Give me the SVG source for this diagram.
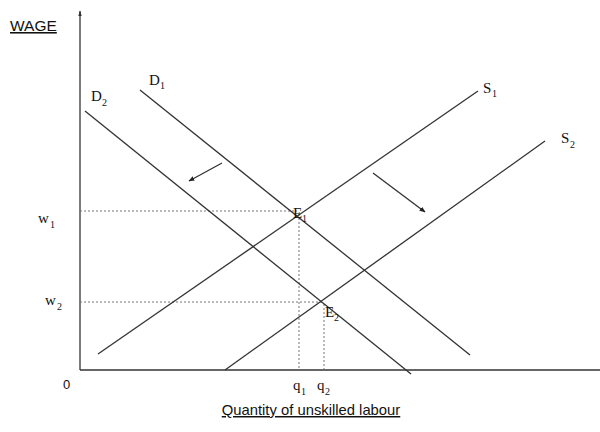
<svg xmlns="http://www.w3.org/2000/svg" width="600" height="432" viewBox="0 0 600 432">
<defs>
<marker id="ah" viewBox="0 0 10 10" refX="9" refY="5" markerWidth="6" markerHeight="6" orient="auto" markerUnits="userSpaceOnUse"><path d="M0,1 L10,5 L0,9 z" fill="#222"/></marker>
<marker id="axh" viewBox="0 0 10 10" refX="9" refY="5" markerWidth="6" markerHeight="6" orient="auto" markerUnits="userSpaceOnUse"><path d="M0,2 L10,5 L0,8 z" fill="#333"/></marker>
</defs>
<style>
.ln{stroke:#333;stroke-width:1.3;fill:none}
.dot{stroke:#777;stroke-width:1;stroke-dasharray:2,2;fill:none}
.ser{font-family:"Liberation Serif","Times New Roman",serif;font-size:15px;fill:#111}
.sub{font-family:"Liberation Serif","Times New Roman",serif;font-size:10px;fill:#111}
.sans{font-family:"Liberation Sans",Arial,sans-serif;font-size:14.8px;fill:#111}
</style>
<rect width="600" height="432" fill="#fff"/>
<g id="axes">
<line class="ln" x1="80" y1="370" x2="80" y2="11" marker-end="url(#axh)"/>
<line class="ln" x1="80" y1="370" x2="600" y2="370"/>
<text class="sans" x="10" y="31" style="font-size:15.5px" text-decoration="underline">WAGE</text>
<text class="sans" x="63" y="389" style="font-size:13px">0</text>
<text class="sans" x="311" y="415" text-anchor="middle" text-decoration="underline">Quantity of unskilled labour</text>
</g>
<g id="connectors">
<line class="dot" x1="80" y1="211" x2="297" y2="211"/>
<line class="dot" x1="299" y1="214" x2="299" y2="369"/>
<line class="dot" x1="80" y1="302" x2="322" y2="302"/>
<line class="dot" x1="324" y1="304" x2="324" y2="369"/>
<line class="ln" x1="222" y1="163" x2="189" y2="181" marker-end="url(#ah)"/>
<line class="ln" x1="373" y1="173" x2="425" y2="212" marker-end="url(#ah)"/>
</g>
<g id="D1">
<line class="ln" x1="140" y1="90" x2="470" y2="355"/>
<text class="ser" x="149" y="85">D</text><text class="sub" x="160" y="89">1</text>
</g>
<g id="D2">
<line class="ln" x1="85" y1="111" x2="411" y2="374"/>
<text class="ser" x="91" y="101">D</text><text class="sub" x="102" y="106">2</text>
</g>
<g id="S1">
<line class="ln" x1="98" y1="354" x2="478" y2="91"/>
<text class="ser" x="483" y="93">S</text><text class="sub" x="492" y="97">1</text>
</g>
<g id="S2">
<line class="ln" x1="225" y1="370" x2="545" y2="141"/>
<text class="ser" x="561" y="143">S</text><text class="sub" x="570" y="148">2</text>
</g>
<g id="E1">
<text class="ser" x="293" y="218">E</text><text class="sub" x="302" y="222">1</text>
</g>
<g id="E2">
<text class="ser" x="325" y="317">E</text><text class="sub" x="334" y="321">2</text>
</g>
<g id="w1">
<text class="ser" x="38" y="223">w</text><text class="sub" x="50" y="228">1</text>
</g>
<g id="w2">
<text class="ser" x="45" y="305">w</text><text class="sub" x="57" y="310">2</text>
</g>
<g id="q1">
<text class="ser" x="293" y="390">q</text><text class="sub" x="301" y="395">1</text>
</g>
<g id="q2">
<text class="ser" x="317" y="390">q</text><text class="sub" x="325" y="395">2</text>
</g>
</svg>
